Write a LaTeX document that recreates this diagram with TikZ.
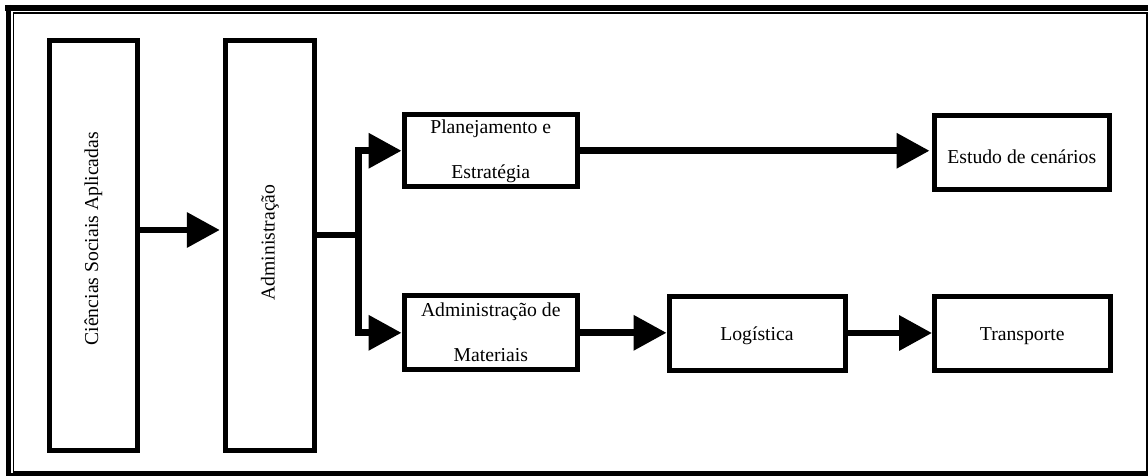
\documentclass[tikz,border=0pt]{standalone}
\usepackage{fontspec}
\setmainfont{Liberation Serif}
\usetikzlibrary{arrows.meta}
% struts that fix the top of the first and the bottom of the last line
\newcommand\lnTop{\rule{0pt}{15.5pt}}
\newcommand\lnBot{\rule[-4pt]{0pt}{4pt}}
\begin{document}
\begin{tikzpicture}[x=1pt,y=-1pt,
  box/.style={draw, line width=5pt, inner sep=0pt, align=center,
    font=\fontsize{19.7}{45}\selectfont},
  link/.style={line width=6.7pt, line join=miter},
  arr/.style={link, -{Triangle[length=33pt,width=34pt]}}]
\useasboundingbox (0,0) rectangle (1148,476);

% page frame: thick outer rule with a thin rule inside
\draw[line width=6pt] (5,8) -- (1148,8);
\draw[line width=5.5pt] (8.5,5) -- (8.5,476);
\draw[line width=3.5pt] (6,474.5) -- (1148,474.5);
\draw[line width=1.5pt] (13.5,12.8) -- (1147.2,12.8) -- (1147.2,472) -- (13.5,472) -- cycle;

% tall boxes with vertical text
\node[box, minimum width=88.3pt, minimum height=409.5pt] (csa) at (93.35,245.75)
  {\rotatebox{90}{\hspace*{14pt}Ciências Sociais Aplicadas}};
\node[box, minimum width=89pt, minimum height=409.5pt] (adm) at (269.8,245.75)
  {\rotatebox{90}{\hspace*{6.5pt}Administração}};

% upper branch
\node[box, minimum width=173.5pt, minimum height=71.5pt] (pe) at (490.75,150.75)
  {\lnTop Planejamento e\\Estratégia\lnBot};
\node[box, minimum width=175.5pt, minimum height=74.5pt] (ec) at (1021.75,152.3)
  {\rule{0pt}{22pt}Estudo de cenários};

% lower branch
\node[box, minimum width=173.5pt, minimum height=74pt] (am) at (490.75,332.8)
  {\lnTop Administração de\\Materiais\lnBot};
\node[box, minimum width=176pt, minimum height=74pt] (lg) at (757,333)
  {\rule{0pt}{19pt}Logística};
\node[box, minimum width=175.5pt, minimum height=74pt] (tr) at (1022.25,333)
  {\rule{0pt}{19pt}Transporte};

% connectors
\coordinate (r1) at (0,230);
\coordinate (fork) at (358.7,235);
\draw[arr, shorten >=3pt] (csa.east |- r1) -- (adm.west |- r1);
\draw[link] (adm.east |- fork) -- (fork);
\draw[arr] (fork) |- (pe.west);
\draw[arr] (fork) |- (am.west);
\draw[arr, shorten >=2pt] (pe.east) -- (ec.west |- pe.east);
\draw[arr] (am.east) -- (lg.west |- am.east);
\draw[arr] (lg.east) -- (tr.west |- lg.east);
\end{tikzpicture}
\end{document}
